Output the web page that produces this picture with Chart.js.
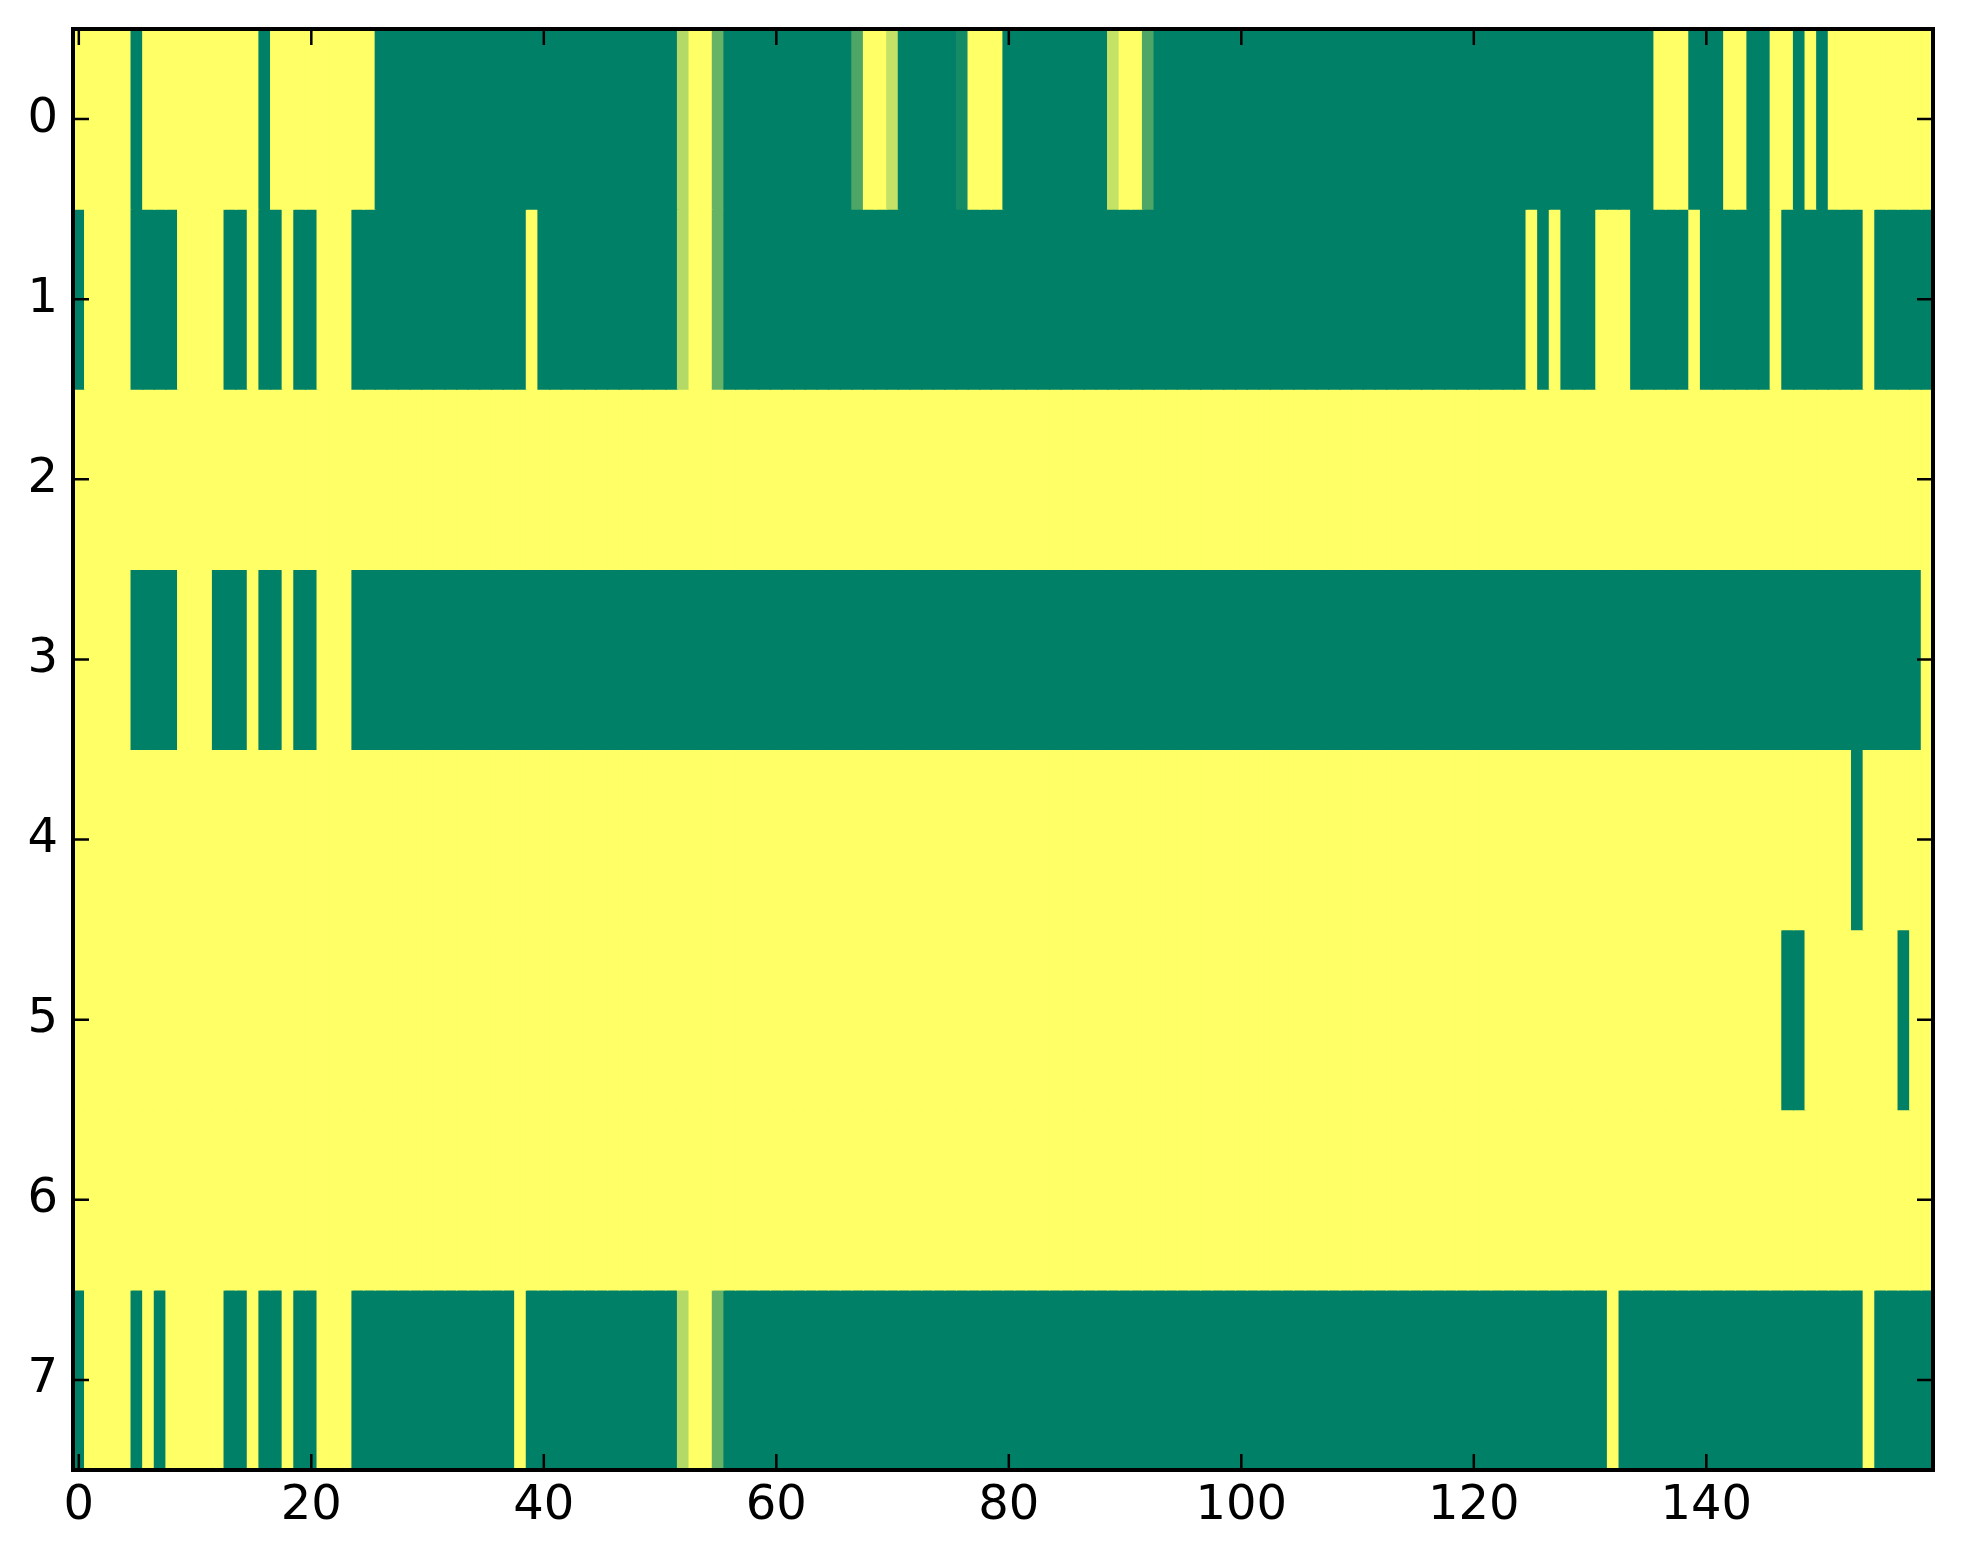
<!DOCTYPE html>
<html>
<head>
<meta charset="utf-8">
<script src="https://cdn.jsdelivr.net/npm/chart.js@4/dist/chart.umd.min.js"></script>
<style>
  html, body { margin: 0; padding: 0; background: #fff; }
  #wrap { width: 1963px; height: 1564px; }
</style>
</head>
<body>
<div id="wrap"><canvas id="heat" width="1963" height="1564"></canvas></div>
<script>
// column indices 0..159, row indices 0..7
const columns = Array.from({ length: 160 }, (_, i) => i);
const rows = [0, 1, 2, 3, 4, 5, 6, 7];
const xTickValues = [0, 20, 40, 60, 80, 100, 120, 140];
const yTickValues = [0, 1, 2, 3, 4, 5, 6, 7];

// cell values (0 = green, 1 = yellow, summer colormap)
const row0 = [
  1,1,1,1,1,0,1,1,1,1, 1,1,1,1,1,1,0,1,1,1,
  1,1,1,1,1,1,0,0,0,0, 0,0,0,0,0,0,0,0,0,0,
  0,0,0,0,0,0,0,0,0,0, 0,0,0.7,1,1,0.4,0,0,0,0,
  0,0,0,0,0,0,0,0.3,1,1, 0.77,0,0,0,0,0,0.08,1,1,1,
  0,0,0,0,0,0,0,0,0,0.77, 1,1,0.3,0,0,0,0,0,0,0,
  0,0,0,0,0,0,0,0,0,0, 0,0,0,0,0,0,0,0,0,0,
  0,0,0,0,0,0,0,0,0,0, 0,0,0,0,0,0,1,1,1,0,
  0,0,1,1,0,0,1,1,0,1, 0,1,1,1,1,1,1,1,1,1
];
const row1 = [
  0,1,1,1,1,0,0,0,0,1, 1,1,1,0,0,1,0,0,1,0,
  0,1,1,1,0,0,0,0,0,0, 0,0,0,0,0,0,0,0,0,1,
  0,0,0,0,0,0,0,0,0,0, 0,0,0.7,1,1,0.4,0,0,0,0,
  0,0,0,0,0,0,0,0,0,0, 0,0,0,0,0,0,0,0,0,0,
  0,0,0,0,0,0,0,0,0,0, 0,0,0,0,0,0,0,0,0,0,
  0,0,0,0,0,0,0,0,0,0, 0,0,0,0,0,0,0,0,0,0,
  0,0,0,0,0,1,0,1,0,0, 0,1,1,1,0,0,0,0,0,1,
  0,0,0,0,0,0,1,0,0,0, 0,0,0,0,1,0,0,0,0,0
];
const row2 = [
  1,1,1,1,1,1,1,1,1,1, 1,1,1,1,1,1,1,1,1,1,
  1,1,1,1,1,1,1,1,1,1, 1,1,1,1,1,1,1,1,1,1,
  1,1,1,1,1,1,1,1,1,1, 1,1,1,1,1,1,1,1,1,1,
  1,1,1,1,1,1,1,1,1,1, 1,1,1,1,1,1,1,1,1,1,
  1,1,1,1,1,1,1,1,1,1, 1,1,1,1,1,1,1,1,1,1,
  1,1,1,1,1,1,1,1,1,1, 1,1,1,1,1,1,1,1,1,1,
  1,1,1,1,1,1,1,1,1,1, 1,1,1,1,1,1,1,1,1,1,
  1,1,1,1,1,1,1,1,1,1, 1,1,1,1,1,1,1,1,1,1
];
const row3 = [
  1,1,1,1,1,0,0,0,0,1, 1,1,0,0,0,1,0,0,1,0,
  0,1,1,1,0,0,0,0,0,0, 0,0,0,0,0,0,0,0,0,0,
  0,0,0,0,0,0,0,0,0,0, 0,0,0,0,0,0,0,0,0,0,
  0,0,0,0,0,0,0,0,0,0, 0,0,0,0,0,0,0,0,0,0,
  0,0,0,0,0,0,0,0,0,0, 0,0,0,0,0,0,0,0,0,0,
  0,0,0,0,0,0,0,0,0,0, 0,0,0,0,0,0,0,0,0,0,
  0,0,0,0,0,0,0,0,0,0, 0,0,0,0,0,0,0,0,0,0,
  0,0,0,0,0,0,0,0,0,0, 0,0,0,0,0,0,0,0,0,1
];
const row4 = [
  1,1,1,1,1,1,1,1,1,1, 1,1,1,1,1,1,1,1,1,1,
  1,1,1,1,1,1,1,1,1,1, 1,1,1,1,1,1,1,1,1,1,
  1,1,1,1,1,1,1,1,1,1, 1,1,1,1,1,1,1,1,1,1,
  1,1,1,1,1,1,1,1,1,1, 1,1,1,1,1,1,1,1,1,1,
  1,1,1,1,1,1,1,1,1,1, 1,1,1,1,1,1,1,1,1,1,
  1,1,1,1,1,1,1,1,1,1, 1,1,1,1,1,1,1,1,1,1,
  1,1,1,1,1,1,1,1,1,1, 1,1,1,1,1,1,1,1,1,1,
  1,1,1,1,1,1,1,1,1,1, 1,1,1,0,1,1,1,1,1,1
];
const row5 = [
  1,1,1,1,1,1,1,1,1,1, 1,1,1,1,1,1,1,1,1,1,
  1,1,1,1,1,1,1,1,1,1, 1,1,1,1,1,1,1,1,1,1,
  1,1,1,1,1,1,1,1,1,1, 1,1,1,1,1,1,1,1,1,1,
  1,1,1,1,1,1,1,1,1,1, 1,1,1,1,1,1,1,1,1,1,
  1,1,1,1,1,1,1,1,1,1, 1,1,1,1,1,1,1,1,1,1,
  1,1,1,1,1,1,1,1,1,1, 1,1,1,1,1,1,1,1,1,1,
  1,1,1,1,1,1,1,1,1,1, 1,1,1,1,1,1,1,1,1,1,
  1,1,1,1,1,1,1,0,0,1, 1,1,1,1,1,1,1,0,1,1
];
const row6 = [
  1,1,1,1,1,1,1,1,1,1, 1,1,1,1,1,1,1,1,1,1,
  1,1,1,1,1,1,1,1,1,1, 1,1,1,1,1,1,1,1,1,1,
  1,1,1,1,1,1,1,1,1,1, 1,1,1,1,1,1,1,1,1,1,
  1,1,1,1,1,1,1,1,1,1, 1,1,1,1,1,1,1,1,1,1,
  1,1,1,1,1,1,1,1,1,1, 1,1,1,1,1,1,1,1,1,1,
  1,1,1,1,1,1,1,1,1,1, 1,1,1,1,1,1,1,1,1,1,
  1,1,1,1,1,1,1,1,1,1, 1,1,1,1,1,1,1,1,1,1,
  1,1,1,1,1,1,1,1,1,1, 1,1,1,1,1,1,1,1,1,1
];
const row7 = [
  0,1,1,1,1,0,1,0,1,1, 1,1,1,0,0,1,0,0,1,0,
  0,1,1,1,0,0,0,0,0,0, 0,0,0,0,0,0,0,0,1,0,
  0,0,0,0,0,0,0,0,0,0, 0,0,0.7,1,1,0.4,0,0,0,0,
  0,0,0,0,0,0,0,0,0,0, 0,0,0,0,0,0,0,0,0,0,
  0,0,0,0,0,0,0,0,0,0, 0,0,0,0,0,0,0,0,0,0,
  0,0,0,0,0,0,0,0,0,0, 0,0,0,0,0,0,0,0,0,0,
  0,0,0,0,0,0,0,0,0,0, 0,0,1,0,0,0,0,0,0,0,
  0,0,0,0,0,0,0,0,0,0, 0,0,0,0,1,0,0,0,0,0
];
const rowValues = [row0, row1, row2, row3, row4, row5, row6, row7];

// matplotlib "summer": (0, .5, .4) -> (1, 1, .4)
function summer(v) {
  const r = Math.round(255 * v);
  const g = Math.round(255 * (0.5 + 0.5 * v));
  return `rgb(${r},${g},102)`;
}

const datasets = rows.map(r => ({
  data: columns.map(c => ({ x: c, y: [r - 0.5, r + 0.5] })),
  backgroundColor: rowValues[r].map(summer),
  borderWidth: 0,
  inflateAmount: 0.6,
  grouped: false,
  barPercentage: 1,
  categoryPercentage: 1,
}));

const FONT = { family: 'DejaVu Sans', size: 48 };
const TICK_LEN = 16;

// frame and inward ticks on all four sides, matplotlib-classic style
const framePlugin = {
  id: 'frame',
  afterDatasetsDraw(chart) {
    const { ctx, chartArea: a, scales } = chart;
    ctx.save();
    ctx.strokeStyle = '#000';
    ctx.lineWidth = 2.5;
    ctx.beginPath();
    xTickValues.forEach(v => {
      const px = scales.x.getPixelForValue(v);
      ctx.moveTo(px, a.bottom); ctx.lineTo(px, a.bottom - TICK_LEN);
      ctx.moveTo(px, a.top); ctx.lineTo(px, a.top + TICK_LEN);
    });
    yTickValues.forEach(v => {
      const py = scales.y.getPixelForValue(v);
      ctx.moveTo(a.left, py); ctx.lineTo(a.left + TICK_LEN, py);
      ctx.moveTo(a.right, py); ctx.lineTo(a.right - TICK_LEN, py);
    });
    ctx.stroke();
    ctx.lineWidth = 4;
    ctx.strokeRect(a.left, a.top, a.right - a.left, a.bottom - a.top);
    ctx.restore();
  },
};

new Chart(document.getElementById('heat'), {
  type: 'bar',
  data: { datasets },
  plugins: [framePlugin],
  options: {
    responsive: false,
    devicePixelRatio: 1,
    animation: false,
    layout: { padding: { top: 29, right: 30, left: 0, bottom: 0 } },
    plugins: { legend: { display: false }, tooltip: { enabled: false } },
    scales: {
      x: {
        type: 'linear',
        offset: false,
        min: -0.5,
        max: 159.5,
        grid: { display: false, drawTicks: false, tickLength: 0 },
        border: { display: false },
        ticks: { color: '#000', font: FONT, padding: 8, maxRotation: 0 },
        afterBuildTicks: s => { s.ticks = xTickValues.map(v => ({ value: v })); },
        afterFit: s => { s.height = 94; s.paddingLeft = 0; s.paddingRight = 0; },
      },
      y: {
        type: 'linear',
        offset: false,
        min: -0.5,
        max: 7.5,
        reverse: true,
        grid: { display: false, drawTicks: false, tickLength: 0 },
        border: { display: false },
        ticks: { color: '#000', font: FONT, padding: 15 },
        afterBuildTicks: s => { s.ticks = yTickValues.map(v => ({ value: v })); },
        afterFit: s => { s.width = 73; s.paddingTop = 0; s.paddingBottom = 0; },
      },
    },
  },
});
</script>
</body>
</html>
